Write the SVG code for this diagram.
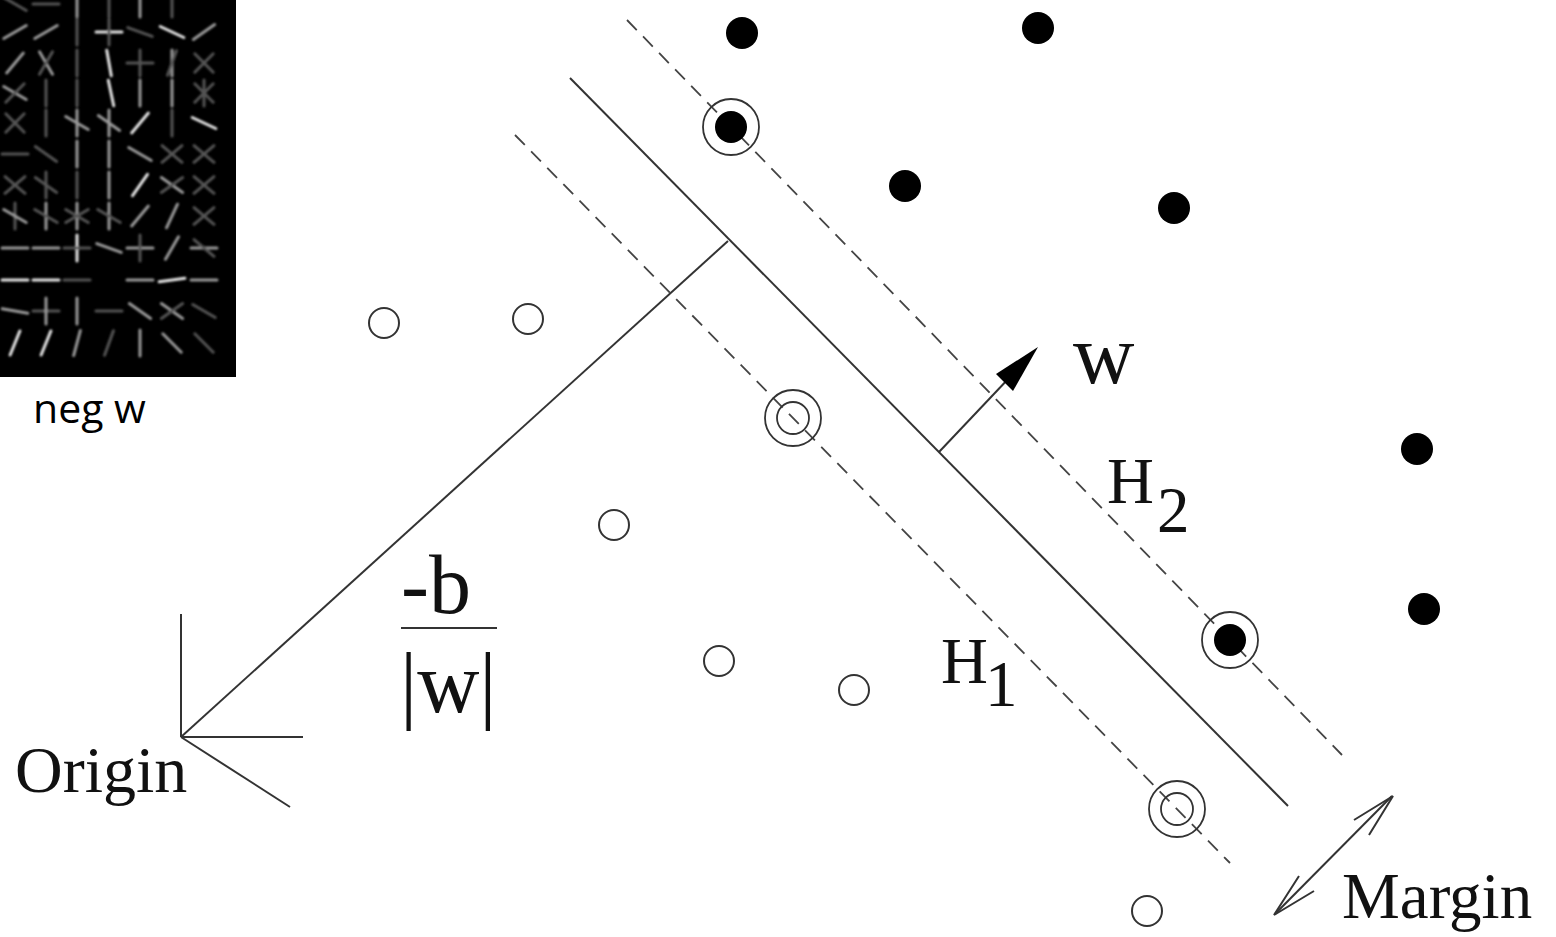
<svg xmlns="http://www.w3.org/2000/svg" xmlns:xlink="http://www.w3.org/1999/xlink" width="1556" height="937" viewBox="0 0 1556 937">
<style>
.ln{stroke:#333;stroke-width:2;fill:none}
.dash{stroke:#444;stroke-width:1.8;fill:none;stroke-dasharray:14 9}
.pos{fill:#000}
.neg{fill:none;stroke:#333;stroke-width:2}
.ring{fill:none;stroke:#333;stroke-width:1.8}
.t{font-family:"Liberation Serif","Times New Roman",serif;fill:#111}
.b{stroke:#e6e6e6}
.m{stroke:#9a9a9a}
.f{stroke:#555}
</style>
<defs>
<line id="s" x1="-13" y1="0" x2="13" y2="0" stroke-width="3" stroke-linecap="round"/>
<filter id="bl" x="-5%" y="-5%" width="110%" height="110%"><feGaussianBlur stdDeviation="1.2"/></filter>
</defs>
<rect width="1556" height="937" fill="#fff"/>

<g id="hog">
<rect x="0" y="0" width="236" height="377" fill="#000"/>
<g filter="url(#bl)">
<use xlink:href="#s" class="m" transform="translate(77,4) rotate(90)"/>
<use xlink:href="#s" class="f" transform="translate(109,4) rotate(90)"/>
<use xlink:href="#s" class="m" transform="translate(140,4) rotate(90)"/>
<use xlink:href="#s" class="f" transform="translate(172,4) rotate(90)"/>
<use xlink:href="#s" class="f" transform="translate(15,4) rotate(30)"/>
<use xlink:href="#s" class="f" transform="translate(46,4)"/>

<use xlink:href="#s" class="m" transform="translate(15,32) rotate(-30)"/>
<use xlink:href="#s" class="m" transform="translate(46,32) rotate(-30)"/>
<use xlink:href="#s" class="f" transform="translate(77,32) rotate(90)"/>
<use xlink:href="#s" class="b" transform="translate(109,32)"/>
<use xlink:href="#s" class="f" transform="translate(109,32) rotate(90)"/>
<use xlink:href="#s" class="f" transform="translate(140,32) rotate(20)"/>
<use xlink:href="#s" class="b" transform="translate(172,32) rotate(25)"/>
<use xlink:href="#s" class="m" transform="translate(204,32) rotate(-35)"/>

<use xlink:href="#s" class="m" transform="translate(15,63) rotate(-50)"/>
<use xlink:href="#s" class="m" transform="translate(46,63) rotate(60)"/>
<use xlink:href="#s" class="f" transform="translate(46,63) rotate(-60)"/>
<use xlink:href="#s" class="f" transform="translate(77,63) rotate(90)"/>
<use xlink:href="#s" class="b" transform="translate(109,63) rotate(80)"/>
<use xlink:href="#s" class="f" transform="translate(140,63) rotate(90)"/>
<use xlink:href="#s" class="f" transform="translate(140,63)"/>
<use xlink:href="#s" class="m" transform="translate(172,63) rotate(90)"/>
<use xlink:href="#s" class="f" transform="translate(172,63) rotate(-70)"/>
<use xlink:href="#s" class="f" transform="translate(204,63) rotate(45)"/>
<use xlink:href="#s" class="f" transform="translate(204,63) rotate(-45)"/>

<use xlink:href="#s" class="m" transform="translate(15,93) rotate(30)"/>
<use xlink:href="#s" class="f" transform="translate(15,93) rotate(-45)"/>
<use xlink:href="#s" class="f" transform="translate(46,93) rotate(90)"/>
<use xlink:href="#s" class="f" transform="translate(77,93) rotate(90)"/>
<use xlink:href="#s" class="b" transform="translate(111,93) rotate(78)"/>
<use xlink:href="#s" class="m" transform="translate(140,93) rotate(90)"/>
<use xlink:href="#s" class="m" transform="translate(172,93) rotate(90)"/>
<use xlink:href="#s" class="f" transform="translate(204,93) rotate(45)"/>
<use xlink:href="#s" class="f" transform="translate(204,93) rotate(-45)"/>
<use xlink:href="#s" class="f" transform="translate(204,93) rotate(90)"/>

<use xlink:href="#s" class="f" transform="translate(15,123) rotate(45)"/>
<use xlink:href="#s" class="f" transform="translate(15,123) rotate(-45)"/>
<use xlink:href="#s" class="f" transform="translate(46,123) rotate(90)"/>
<use xlink:href="#s" class="m" transform="translate(77,123) rotate(90)"/>
<use xlink:href="#s" class="m" transform="translate(77,123) rotate(30)"/>
<use xlink:href="#s" class="m" transform="translate(109,123) rotate(90)"/>
<use xlink:href="#s" class="m" transform="translate(109,123) rotate(35)"/>
<use xlink:href="#s" class="b" transform="translate(140,123) rotate(-50)"/>
<use xlink:href="#s" class="f" transform="translate(172,123) rotate(90)"/>
<use xlink:href="#s" class="b" transform="translate(204,123) rotate(25)"/>

<use xlink:href="#s" class="f" transform="translate(15,154)"/>
<use xlink:href="#s" class="f" transform="translate(46,154) rotate(35)"/>
<use xlink:href="#s" class="m" transform="translate(77,154) rotate(90)"/>
<use xlink:href="#s" class="m" transform="translate(109,154) rotate(90)"/>
<use xlink:href="#s" class="m" transform="translate(140,154) rotate(30)"/>
<use xlink:href="#s" class="f" transform="translate(172,154) rotate(40)"/>
<use xlink:href="#s" class="f" transform="translate(172,154) rotate(-40)"/>
<use xlink:href="#s" class="f" transform="translate(204,154) rotate(40)"/>
<use xlink:href="#s" class="f" transform="translate(204,154) rotate(-40)"/>

<use xlink:href="#s" class="f" transform="translate(15,185) rotate(40)"/>
<use xlink:href="#s" class="f" transform="translate(15,185) rotate(-40)"/>
<use xlink:href="#s" class="f" transform="translate(46,185) rotate(90)"/>
<use xlink:href="#s" class="f" transform="translate(46,185) rotate(35)"/>
<use xlink:href="#s" class="f" transform="translate(77,185) rotate(90)"/>
<use xlink:href="#s" class="m" transform="translate(109,185) rotate(90)"/>
<use xlink:href="#s" class="b" transform="translate(140,185) rotate(-55)"/>
<use xlink:href="#s" class="m" transform="translate(172,185) rotate(35)"/>
<use xlink:href="#s" class="f" transform="translate(172,185) rotate(-35)"/>
<use xlink:href="#s" class="f" transform="translate(204,185) rotate(40)"/>
<use xlink:href="#s" class="f" transform="translate(204,185) rotate(-40)"/>

<use xlink:href="#s" class="f" transform="translate(15,216) rotate(90)"/>
<use xlink:href="#s" class="m" transform="translate(15,216) rotate(30)"/>
<use xlink:href="#s" class="m" transform="translate(46,216) rotate(90)"/>
<use xlink:href="#s" class="f" transform="translate(46,216) rotate(30)"/>
<use xlink:href="#s" class="m" transform="translate(77,216) rotate(90)"/>
<use xlink:href="#s" class="f" transform="translate(77,216) rotate(30)"/>
<use xlink:href="#s" class="f" transform="translate(77,216) rotate(-30)"/>
<use xlink:href="#s" class="m" transform="translate(109,216) rotate(90)"/>
<use xlink:href="#s" class="f" transform="translate(109,216) rotate(30)"/>
<use xlink:href="#s" class="m" transform="translate(140,216) rotate(-50)"/>
<use xlink:href="#s" class="m" transform="translate(172,216) rotate(-65)"/>
<use xlink:href="#s" class="f" transform="translate(204,216) rotate(40)"/>
<use xlink:href="#s" class="f" transform="translate(204,216) rotate(-40)"/>

<use xlink:href="#s" class="m" transform="translate(15,248)"/>
<use xlink:href="#s" class="m" transform="translate(46,248)"/>
<use xlink:href="#s" class="b" transform="translate(77,248) rotate(90)"/>
<use xlink:href="#s" class="f" transform="translate(77,248)"/>
<use xlink:href="#s" class="m" transform="translate(109,248) rotate(20)"/>
<use xlink:href="#s" class="m" transform="translate(140,248)"/>
<use xlink:href="#s" class="f" transform="translate(140,248) rotate(90)"/>
<use xlink:href="#s" class="m" transform="translate(172,248) rotate(-60)"/>
<use xlink:href="#s" class="m" transform="translate(204,248)"/>
<use xlink:href="#s" class="f" transform="translate(204,248) rotate(40)"/>

<use xlink:href="#s" class="b" transform="translate(15,280)"/>
<use xlink:href="#s" class="b" transform="translate(46,280)"/>
<use xlink:href="#s" class="f" transform="translate(77,280)"/>
<use xlink:href="#s" class="m" transform="translate(140,280)"/>
<use xlink:href="#s" class="b" transform="translate(172,280) rotate(-8)"/>
<use xlink:href="#s" class="m" transform="translate(204,280)"/>

<use xlink:href="#s" class="m" transform="translate(15,311) rotate(10)"/>
<use xlink:href="#s" class="f" transform="translate(46,311)"/>
<use xlink:href="#s" class="m" transform="translate(46,311) rotate(90)"/>
<use xlink:href="#s" class="m" transform="translate(77,311) rotate(90)"/>
<use xlink:href="#s" class="f" transform="translate(109,311)"/>
<use xlink:href="#s" class="m" transform="translate(140,311) rotate(35)"/>
<use xlink:href="#s" class="m" transform="translate(172,311) rotate(35)"/>
<use xlink:href="#s" class="f" transform="translate(172,311) rotate(-35)"/>
<use xlink:href="#s" class="f" transform="translate(204,311) rotate(30)"/>

<use xlink:href="#s" class="b" transform="translate(15,343) rotate(-68)"/>
<use xlink:href="#s" class="b" transform="translate(46,343) rotate(-68)"/>
<use xlink:href="#s" class="m" transform="translate(77,343) rotate(-75)"/>
<use xlink:href="#s" class="f" transform="translate(109,343) rotate(-70)"/>
<use xlink:href="#s" class="m" transform="translate(140,343) rotate(90)"/>
<use xlink:href="#s" class="m" transform="translate(172,343) rotate(45)"/>
<use xlink:href="#s" class="f" transform="translate(204,343) rotate(45)"/>
</g>
</g>
<g id="hog-label"><text x="33" y="423" font-family="'Open Sans','Liberation Sans',sans-serif" font-size="41" fill="#000">neg w</text></g>

<g id="connectors">
<line class="ln" x1="570" y1="78" x2="1288" y2="806"/>
<line class="dash" x1="627" y1="20" x2="1342" y2="755"/>
<line class="dash" x1="515" y1="135" x2="1230" y2="863"/>
<line class="ln" x1="181" y1="737" x2="728" y2="241"/>
<line class="ln" x1="181" y1="614" x2="181" y2="737"/>
<line class="ln" x1="181" y1="737" x2="303" y2="737"/>
<line class="ln" x1="181" y1="737" x2="290" y2="807"/>
<line class="ln" x1="939" y1="452" x2="1010" y2="377"/>
<polygon points="1038,347 996,374 1013,391" fill="#000"/>
<line class="ln" x1="1275" y1="914" x2="1392" y2="796" stroke-width="1.6"/>
<polyline class="ln" stroke-width="1.6" points="1354,820 1393,796 1369,835"/>
<polyline class="ln" stroke-width="1.6" points="1299,876 1274,915 1314,891"/>
<line class="ln" x1="401" y1="628" x2="497" y2="628" stroke-width="3"/>
</g>

<g id="positives">
<circle class="pos" cx="742" cy="33" r="16"/>
<circle class="pos" cx="1038" cy="28" r="16"/>
<circle class="pos" cx="905" cy="186" r="16"/>
<circle class="pos" cx="1174" cy="208" r="16"/>
<circle class="pos" cx="1417" cy="449" r="16"/>
<circle class="pos" cx="1424" cy="609" r="16"/>
</g>
<g id="sv-pos-1"><circle class="pos" cx="731" cy="127" r="16"/><circle class="ring" cx="731" cy="127" r="28"/></g>
<g id="sv-pos-2"><circle class="pos" cx="1230" cy="640" r="16"/><circle class="ring" cx="1230" cy="640" r="28"/></g>
<g id="negatives">
<circle class="neg" cx="384" cy="323" r="15"/>
<circle class="neg" cx="528" cy="319" r="15"/>
<circle class="neg" cx="614" cy="525" r="15"/>
<circle class="neg" cx="719" cy="661" r="15"/>
<circle class="neg" cx="854" cy="690" r="15"/>
<circle class="neg" cx="1147" cy="911" r="15"/>
</g>
<g id="sv-neg-1"><circle class="ring" cx="793" cy="418" r="16"/><circle class="ring" cx="793" cy="418" r="28"/></g>
<g id="sv-neg-2"><circle class="ring" cx="1177" cy="809" r="16"/><circle class="ring" cx="1177" cy="809" r="28"/></g>

<g id="labels">
<text class="t" x="1073" y="383" font-size="85">w</text>
<text class="t" x="1107" y="503" font-size="65">H</text>
<text class="t" x="1157" y="532" font-size="65">2</text>
<text class="t" x="941" y="683" font-size="65">H</text>
<text class="t" x="985" y="706" font-size="65">1</text>
<text class="t" x="401" y="613" font-size="84">-b</text>
<text class="t" x="400" y="712" font-size="86">|w|</text>
<text class="t" x="15" y="792" font-size="66">Origin</text>
<text class="t" x="1342" y="918" font-size="65">Margin</text>
</g>
</svg>
